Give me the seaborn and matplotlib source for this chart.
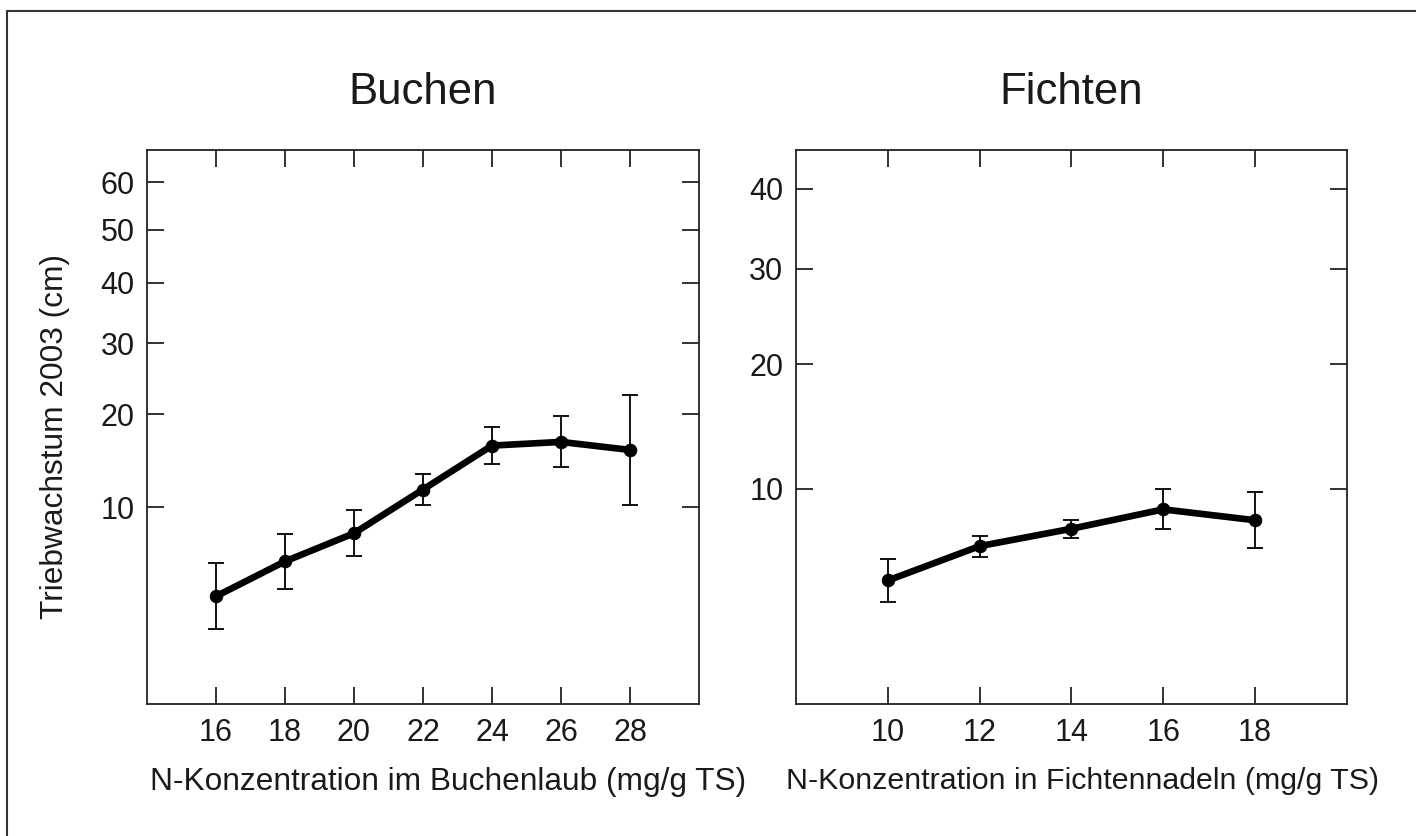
import numpy as np
import pandas as pd
import matplotlib
matplotlib.use("Agg")
import matplotlib.pyplot as plt
import seaborn as sns
from matplotlib.lines import Line2D

# Buchen (beech)
buche_x = [16, 18, 20, 22, 24, 26, 28]
buche_y = [3.65, 5.77, 7.83, 11.66, 16.27, 16.69, 15.78]
buche_lo = [2.11, 4.06, 6.15, 10.20, 14.21, 13.96, 10.24]
buche_hi = [5.65, 7.75, 9.74, 13.16, 18.45, 19.82, 22.56]

# Fichten (spruce)
fichte_x = [10, 12, 14, 16, 18]
fichte_y = [4.82, 6.54, 7.51, 8.67, 8.01]
fichte_lo = [3.87, 5.99, 6.97, 7.49, 6.42]
fichte_hi = [5.88, 7.09, 8.04, 9.97, 9.78]

buche_yticks = [10, 20, 30, 40, 50, 60]
fichte_yticks = [10, 20, 30, 40]

sns.set_theme(style="white")
plt.rcParams['font.family'] = ['Liberation Sans', 'DejaVu Sans']

fig = plt.figure(figsize=(14.16, 8.36), dpi=100)
ax1 = fig.add_axes([0.1038, 0.1579, 0.3898, 0.6627])
ax2 = fig.add_axes([0.5621, 0.1579, 0.3891, 0.6627])

def sq(v):
    return np.sqrt(np.clip(v, 0, None))

def unsq(v):
    return np.square(v)

def panel(ax, x, y, lo, hi, yticks, xlim, ylim, title, xlabel, xlab_pos, xlab_size):
    df = pd.DataFrame({'x': x, 'y': y})
    ax.set_yscale('function', functions=(sq, unsq))
    y = np.array(y)
    yerr = [y - np.array(lo), np.array(hi) - y]
    ax.errorbar(x, y, yerr=yerr, fmt='none', ecolor='#111111', elinewidth=1.4,
                capsize=6, capthick=1.4, zorder=2)
    sns.lineplot(data=df, x='x', y='y', ax=ax, color='black', linewidth=4.8,
                 marker='o', markersize=9, markeredgecolor='black', zorder=3)
    ax.set_xlim(*xlim)
    ax.set_ylim(*ylim)
    ax.set_xticks(x)
    ax.set_yticks(yticks)
    ax.set_yticklabels([str(t) for t in yticks])
    ax.tick_params(direction='in', length=12, width=1.3, color='#222222',
                   top=True, right=True, bottom=True, left=True,
                   labelsize=22, labelcolor='#1a1a1a')
    ax.tick_params(axis='x', pad=10)
    ax.tick_params(axis='y', pad=9)
    for s in ax.spines.values():
        s.set_color('#222222')
        s.set_linewidth(1.3)
    ax.set_title(title, fontsize=31.5, pad=33, color='#1a1a1a')
    ax.set_xlabel(xlabel, fontsize=xlab_size, labelpad=14, color='#1a1a1a')
    ax.xaxis.label.set_x(xlab_pos)
    ax.set_ylabel('')

panel(ax1, buche_x, buche_y, buche_lo, buche_hi, buche_yticks, (14, 30), (0.155, 67.2),
      'Buchen', 'N-Konzentration im Buchenlaub (mg/g TS)', 0.546, 22.8)
panel(ax2, fichte_x, fichte_y, fichte_lo, fichte_hi, fichte_yticks, (8, 20), (0.8, 45.3),
      'Fichten', 'N-Konzentration in Fichtennadeln (mg/g TS)', 0.52, 21.9)

ax1.set_ylabel('Triebwachstum 2003 (cm)', fontsize=22.8, color='#1a1a1a')
ax1.yaxis.set_label_coords(-0.1395, 0.483)

# outer frame (left and top only)
fig.add_artist(Line2D([7 / 1416, 7 / 1416], [0, 1 - 11 / 836], transform=fig.transFigure,
                      color='#333333', linewidth=1.5))
fig.add_artist(Line2D([7 / 1416, 1], [1 - 11 / 836, 1 - 11 / 836], transform=fig.transFigure,
                      color='#333333', linewidth=1.5))

fig.savefig('out.png', dpi=100)
